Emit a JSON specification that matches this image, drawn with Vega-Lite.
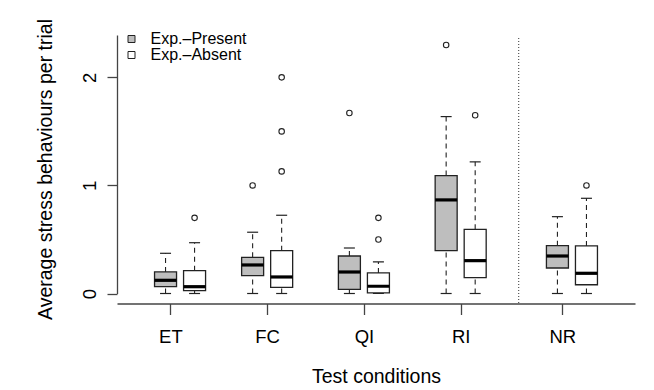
{
  "$schema": "https://vega.github.io/schema/vega-lite/v6.json",
  "autosize": {"type": "none"},
  "width": 518,
  "height": 258.5,
  "padding": {"left": 117, "top": 35, "right": 19, "bottom": 96.5},
  "background": "white",
  "config": {
    "view": {"stroke": null},
    "font": "Liberation Sans",
    "axis": {
      "labelFont": "Liberation Sans",
      "titleFont": "Liberation Sans",
      "labelFontSize": 18.5,
      "titleFontSize": 19.5,
      "titleFontWeight": "normal",
      "labelColor": "black",
      "titleColor": "black",
      "domainColor": "#444",
      "tickColor": "#444",
      "domainWidth": 1.3,
      "tickWidth": 1.3,
      "grid": false
    },
    "legend": {
      "labelFont": "Liberation Sans"
    }
  },
  "datasets": {
    "boxes": [
      {"cond": "ET", "group": "Exp.–Present", "pos": 0.95, "lo": 0, "q1": 0.063, "med": 0.122, "q3": 0.2, "hi": 0.372},
      {"cond": "ET", "group": "Exp.–Absent", "pos": 1.25, "lo": 0, "q1": 0.026, "med": 0.063, "q3": 0.211, "hi": 0.47},
      {"cond": "FC", "group": "Exp.–Present", "pos": 1.85, "lo": 0, "q1": 0.165, "med": 0.264, "q3": 0.335, "hi": 0.567},
      {"cond": "FC", "group": "Exp.–Absent", "pos": 2.15, "lo": 0, "q1": 0.057, "med": 0.153, "q3": 0.396, "hi": 0.724},
      {"cond": "QI", "group": "Exp.–Present", "pos": 2.85, "lo": 0, "q1": 0.039, "med": 0.199, "q3": 0.347, "hi": 0.421},
      {"cond": "QI", "group": "Exp.–Absent", "pos": 3.15, "lo": 0, "q1": 0.005, "med": 0.067, "q3": 0.19, "hi": 0.292},
      {"cond": "RI", "group": "Exp.–Present", "pos": 3.85, "lo": 0, "q1": 0.396, "med": 0.866, "q3": 1.091, "hi": 1.637},
      {"cond": "RI", "group": "Exp.–Absent", "pos": 4.15, "lo": 0, "q1": 0.146, "med": 0.304, "q3": 0.594, "hi": 1.218},
      {"cond": "NR", "group": "Exp.–Present", "pos": 5.0, "lo": 0, "q1": 0.236, "med": 0.347, "q3": 0.443, "hi": 0.711},
      {"cond": "NR", "group": "Exp.–Absent", "pos": 5.3, "lo": 0, "q1": 0.081, "med": 0.187, "q3": 0.44, "hi": 0.881}
    ],
    "outliers": [
      {"cond": "ET", "group": "Exp.–Absent", "pos": 1.25, "value": 0.7},
      {"cond": "FC", "group": "Exp.–Present", "pos": 1.85, "value": 1.0},
      {"cond": "FC", "group": "Exp.–Absent", "pos": 2.15, "value": 1.13},
      {"cond": "FC", "group": "Exp.–Absent", "pos": 2.15, "value": 1.5},
      {"cond": "FC", "group": "Exp.–Absent", "pos": 2.15, "value": 2.0},
      {"cond": "QI", "group": "Exp.–Present", "pos": 2.85, "value": 1.67},
      {"cond": "QI", "group": "Exp.–Absent", "pos": 3.15, "value": 0.5},
      {"cond": "QI", "group": "Exp.–Absent", "pos": 3.15, "value": 0.7},
      {"cond": "RI", "group": "Exp.–Present", "pos": 3.85, "value": 2.3},
      {"cond": "RI", "group": "Exp.–Absent", "pos": 4.15, "value": 1.65},
      {"cond": "NR", "group": "Exp.–Absent", "pos": 5.3, "value": 1.0}
    ]
  },
  "data": {"name": "boxes"},
  "layer": [
    {
      "mark": {"type": "rule", "strokeDash": [5, 4], "color": "#222", "strokeWidth": 1.1},
      "encoding": {
        "x": {
          "field": "pos", "type": "quantitative",
          "scale": {"domain": [0.5, 5.75], "nice": false, "zero": false},
          "axis": {
            "values": [1, 2, 3, 4, 5.05],
            "labelExpr": "datum.value == 1 ? 'ET' : datum.value == 2 ? 'FC' : datum.value == 3 ? 'QI' : datum.value == 4 ? 'RI' : 'NR'",
            "offset": 10,
            "tickSize": 11,
            "labelPadding": 28,
            "labelBaseline": "alphabetic",
            "title": "Test conditions",
            "titleBaseline": "alphabetic",
            "titleY": 79
          }
        },
        "y": {
          "field": "lo", "type": "quantitative",
          "scale": {"domain": [0, 2.392], "nice": false, "zero": false},
          "axis": {
            "values": [0, 1, 2],
            "format": "d",
            "tickSize": 10,
            "labelAngle": 270,
            "labelAlign": "center",
            "labelBaseline": "alphabetic",
            "labelPadding": 12,
            "title": "Average stress behaviours per trial",
            "titleAngle": 270,
            "titleAlign": "center",
            "titleBaseline": "alphabetic",
            "titleX": -66,
            "titleY": 134
          }
        },
        "y2": {"field": "q1"}
      }
    },
    {
      "mark": {"type": "rule", "strokeDash": [5, 4], "color": "#222", "strokeWidth": 1.1},
      "encoding": {
        "x": {"field": "pos", "type": "quantitative"},
        "y": {"field": "q3", "type": "quantitative"},
        "y2": {"field": "hi"}
      }
    },
    {
      "mark": {"type": "tick", "orient": "horizontal", "size": 11, "thickness": 1.2, "color": "#222", "opacity": 1},
      "encoding": {
        "x": {"field": "pos", "type": "quantitative"},
        "y": {"field": "lo", "type": "quantitative"}
      }
    },
    {
      "mark": {"type": "tick", "orient": "horizontal", "size": 11, "thickness": 1.2, "color": "#222", "opacity": 1},
      "encoding": {
        "x": {"field": "pos", "type": "quantitative"},
        "y": {"field": "hi", "type": "quantitative"}
      }
    },
    {
      "mark": {"type": "bar", "size": 22, "stroke": "#222", "strokeWidth": 1.3, "opacity": 1},
      "encoding": {
        "x": {"field": "pos", "type": "quantitative"},
        "y": {"field": "q1", "type": "quantitative"},
        "y2": {"field": "q3"},
        "fill": {
          "field": "group", "type": "nominal",
          "scale": {"domain": ["Exp.–Present", "Exp.–Absent"], "range": ["#BEBEBE", "#FFFFFF"]},
          "legend": {
            "title": null,
            "orient": "none",
            "legendX": 6.5,
            "legendY": -4,
            "padding": 0,
            "symbolType": "square",
            "symbolSize": 49,
            "symbolStrokeColor": "#222",
            "symbolStrokeWidth": 1,
            "symbolOpacity": 1,
            "labelFontSize": 16,
            "labelColor": "black",
            "labelOffset": 11,
            "rowPadding": -4
          }
        }
      }
    },
    {
      "mark": {"type": "tick", "orient": "horizontal", "size": 22, "thickness": 3.2, "color": "black", "opacity": 1},
      "encoding": {
        "x": {"field": "pos", "type": "quantitative"},
        "y": {"field": "med", "type": "quantitative"}
      }
    },
    {
      "data": {"name": "outliers"},
      "mark": {"type": "point", "shape": "circle", "filled": false, "size": 30, "stroke": "#222", "strokeWidth": 1.1, "opacity": 1},
      "encoding": {
        "x": {"field": "pos", "type": "quantitative"},
        "y": {"field": "value", "type": "quantitative"}
      }
    },
    {
      "data": {"values": [{}]},
      "mark": {"type": "rule", "strokeDash": [1, 2], "color": "#333", "strokeWidth": 1},
      "encoding": {
        "x": {"datum": 4.6, "type": "quantitative"},
        "y": {"datum": -0.088, "type": "quantitative"},
        "y2": {"datum": 2.373}
      }
    }
  ]
}
